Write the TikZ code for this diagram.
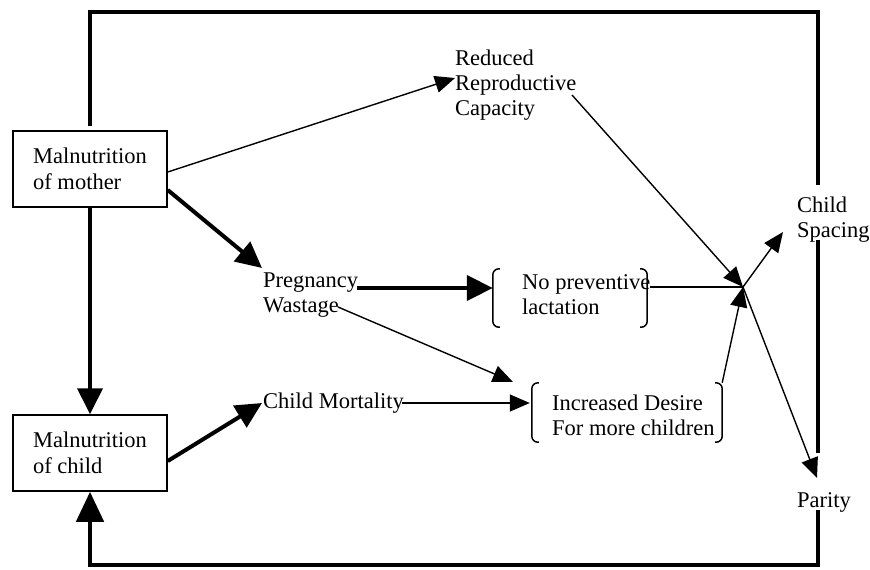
\documentclass[tikz,border=0pt]{standalone}
\usepackage{fontspec}
\setmainfont{Liberation Serif}
\usetikzlibrary{arrows.meta}
\begin{document}
\begin{tikzpicture}[x=1pt,y=-1pt,
  lbl/.style={inner sep=0pt, align=left, anchor=west, font=\fontsize{22.5}{25}\selectfont},
  box/.style={draw, line width=1.5pt, minimum width=154pt, minimum height=76pt, inner sep=0pt, align=left, font=\fontsize{22.5}{26.5}\selectfont},
  brk/.style={inner sep=0pt},
  thinarrow/.style={line width=1.4pt, -{Triangle[length=20pt,width=17pt]}},
  thinline/.style={line width=1.4pt},
  thickarrow/.style={line width=4pt, -{Triangle[length=26pt,width=25pt]}},
  frame/.style={line width=4.5pt},
  framearrow/.style={line width=4.5pt, -{Triangle[length=30pt,width=27pt]}},
  bracket/.style={line width=1.5pt, rounded corners=6pt}
]
\useasboundingbox (0,0) rectangle (870,570);

% nodes
\node[box] (mother) at (90,169) {Malnutrition\\of mother};
\node[box] (child) at (90,453) {Malnutrition\\of child};
\node[lbl] (reduced) at (455,85) {Reduced\\Reproductive\\Capacity};
\node[lbl] (preg) at (263,295) {Pregnancy\\Wastage};
\node[lbl] (mort) at (263,403) {Child Mortality};
\node[lbl] (nopre) at (522,295) {No preventive\\lactation};
\node[lbl] (incr) at (552,415.5) {Increased Desire\\For more children};
\node[lbl] (spacing) at (797,220) {Child\\Spacing};
\node[lbl] (parity) at (797,502) {Parity};

% bracket areas
\node[brk, minimum width=154pt, minimum height=58pt] (npb) at (570,298) {};
\node[brk, minimum width=190pt, minimum height=59pt] (incrB) at (627,412.5) {};
\draw[bracket] ([xshift=7pt]npb.north west) -- (npb.north west) -- (npb.south west) -- ([xshift=7pt]npb.south west);
\draw[bracket] ([xshift=-7pt]npb.north east) -- (npb.north east) -- (npb.south east) -- ([xshift=-7pt]npb.south east);
\draw[bracket] ([xshift=7pt]incrB.north west) -- (incrB.north west) -- (incrB.south west) -- ([xshift=7pt]incrB.south west);
\draw[bracket] ([xshift=-7pt]incrB.north east) -- (incrB.north east) -- (incrB.south east) -- ([xshift=-7pt]incrB.south east);

\coordinate (J) at (743,287);

% connectors
\draw[thinarrow] ([yshift=-3pt]mother.east) -- ([yshift=7pt]reduced.west);
\draw[thickarrow] ([yshift=-21pt]mother.east) -- ([shift={(-1pt,27pt)}]preg.west);
\draw[thickarrow] (mother.south) -- (child.north);
\draw[thickarrow] ([yshift=-8pt]child.east) -- ([xshift=-1pt]mort.west);
\draw[thickarrow] ([shift={(94pt,7pt)}]preg.west) -- ([yshift=10pt]npb.west);
\draw[thinarrow] ([shift={(75pt,-12pt)}]preg.west) -- ([shift={(-19pt,1pt)}]incrB.north west);
\draw[thinarrow] ([xshift=-2pt]mort.east) -- ([shift={(-2pt,9.5pt)}]incrB.west);
\draw[thinline] ([shift={(3pt,11pt)}]npb.east) -- (J);
\draw[thinarrow] ([shift={(117pt,-10pt)}]reduced.west) -- (J);
\draw[thinarrow] (incrB.north east) -- (J);
\draw[thinarrow] (J) -- ([shift={(-14pt,-12pt)}]spacing.west);
\draw[thinarrow] (J) -- ([shift={(20pt,24pt)}]parity.west);

% frame
\coordinate (TR) at (818,12);
\coordinate (R1) at (818,185);
\coordinate (R2) at (818,240);
\coordinate (R3) at (818,453);
\coordinate (R4) at (818,510);
\coordinate (BR) at (818,565);
\draw[frame] ([yshift=4pt]mother.north) -- (mother.north |- TR) -- (TR) -- (R1);
\draw[frame] (R2) -- (R3);
\draw[framearrow] (R4) -- (BR) -- (child.south |- BR) -- (child.south);
\end{tikzpicture}
\end{document}
